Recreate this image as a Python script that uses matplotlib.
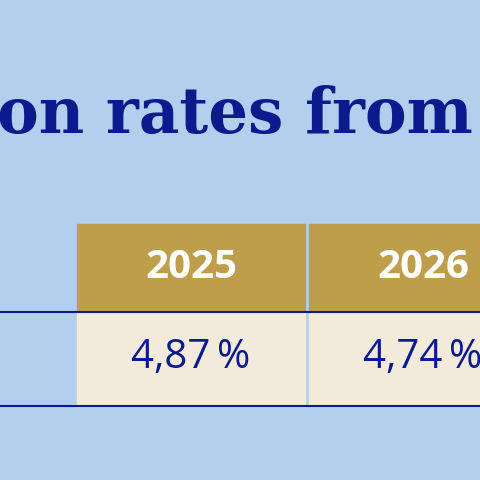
import matplotlib
matplotlib.use("Agg")
import matplotlib.pyplot as plt
from matplotlib.patches import Rectangle

title = "on rates from"
years = ["2025", "2026"]
rates = ["4,87\u2009%", "4,74\u2009%"]

BG = "#b3cfed"; GOLD = "#bf9e4b"; CREAM = "#f2ebdc"; NAVY = "#0b1a8c"

fig = plt.figure(figsize=(4.8, 4.8), dpi=100, facecolor=BG)
ax = fig.add_axes([0, 0, 1, 1])
ax.set_xlim(0, 480); ax.set_ylim(480, 0); ax.axis("off")
ax.set_facecolor(BG)

ax.text(-3, 116, title, fontsize=45, fontweight="bold", family="DejaVu Serif",
        color=NAVY, ha="left", va="center")

x0, w, gap = 77, 228, 4
for i, (y, r) in enumerate(zip(years, rates)):
    x = x0 + i * (w + gap)
    ax.add_patch(Rectangle((x, 224), w, 86, color=GOLD))
    ax.add_patch(Rectangle((x, 313), w, 93, color=CREAM))
    ax.text(x + w / 2, 268, y, fontsize=29, fontweight="bold", family="Open Sans",
            color="white", ha="center", va="center")
    ax.text(x + w / 2, 358, r, fontsize=29, family=["Open Sans", "DejaVu Sans"],
            color=NAVY, ha="center", va="center")
ax.plot([0, 480], [311.5, 311.5], color=NAVY, lw=1.5)
ax.plot([0, 480], [406, 406], color=NAVY, lw=1.5)

fig.savefig("out.png", dpi=100, facecolor=BG)
